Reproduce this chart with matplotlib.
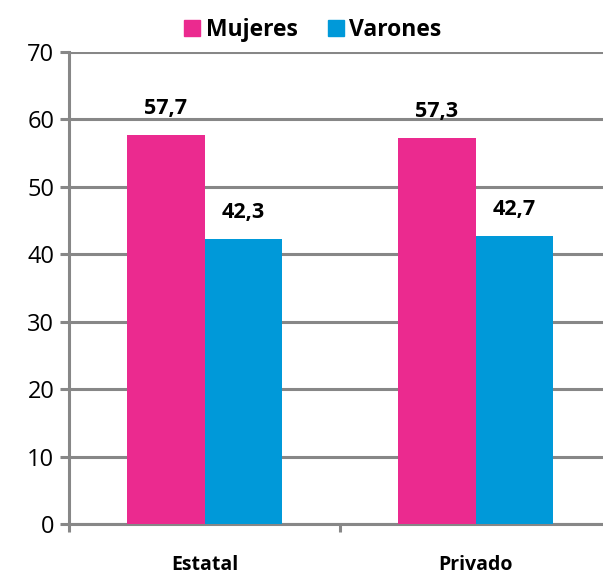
import numpy as np
import matplotlib
matplotlib.use("Agg")
import matplotlib.pyplot as plt
from matplotlib.patches import Patch

# data
categorias = ["Estatal", "Privado"]
mujeres = [57.7, 57.3]
varones = [42.3, 42.7]
etiquetas_m = ["57,7", "57,3"]
etiquetas_v = ["42,3", "42,7"]
yticks = [0, 10, 20, 30, 40, 50, 60, 70]

rosa = "#EB2A8F"
azul = "#0099D9"
gris = "#878787"

plt.rcParams['font.family'] = ['Open Sans', 'DejaVu Sans']

fig = plt.figure(figsize=(6.03, 5.75), dpi=100)
ax = fig.add_axes([0.1144, 0.0887, 0.899, 0.821])

x = np.arange(len(categorias))
w = 0.285
ax.bar(x - w/2, mujeres, w, color=rosa, zorder=3)
ax.bar(x + w/2, varones, w, color=azul, zorder=3)

for i in range(len(categorias)):
    ax.text(x[i] - w/2, mujeres[i] + 3.9, etiquetas_m[i], ha="center", va="center",
            fontsize=15.5, fontweight="bold", zorder=4)
    ax.text(x[i] + w/2, varones[i] + 3.9, etiquetas_v[i], ha="center", va="center",
            fontsize=15.5, fontweight="bold", zorder=4)

ax.set_xlim(-0.5, 1.5)
ax.set_ylim(0, 70)
ax.set_yticks(yticks)
ax.set_yticklabels([str(t) for t in yticks], fontsize=17)
ax.yaxis.grid(True, color=gris, linewidth=2.2, zorder=1)
ax.set_axisbelow(True)

# ticks at category boundaries, labels at centers
ax.set_xticks([-0.5, 0.5, 1.5])
ax.set_xticklabels([])
ax.set_xticks(x, minor=True)
ax.set_xticklabels(categorias, minor=True, fontsize=14, fontweight="bold")
ax.tick_params(axis="x", which="minor", length=0, pad=22)
ax.tick_params(axis="x", which="major", length=6, width=2.2, color=gris, direction="out")
ax.tick_params(axis="y", length=6.5, width=2.2, color=gris, direction="out", pad=4)

for s in ["top", "right"]:
    ax.spines[s].set_visible(False)
for s in ["left", "bottom"]:
    ax.spines[s].set_color(gris)
    ax.spines[s].set_linewidth(2.2)

handles = [Patch(color=rosa, label="Mujeres"), Patch(color=azul, label="Varones")]
fig.legend(handles=handles, loc="center", bbox_to_anchor=(0.519, 0.947), ncol=2,
           frameon=False, prop={"size": 16.5, "weight": "bold"},
           handlelength=0.7, handleheight=0.7, handletextpad=0.25, columnspacing=1.3)

fig.savefig("out.png", dpi=100)
